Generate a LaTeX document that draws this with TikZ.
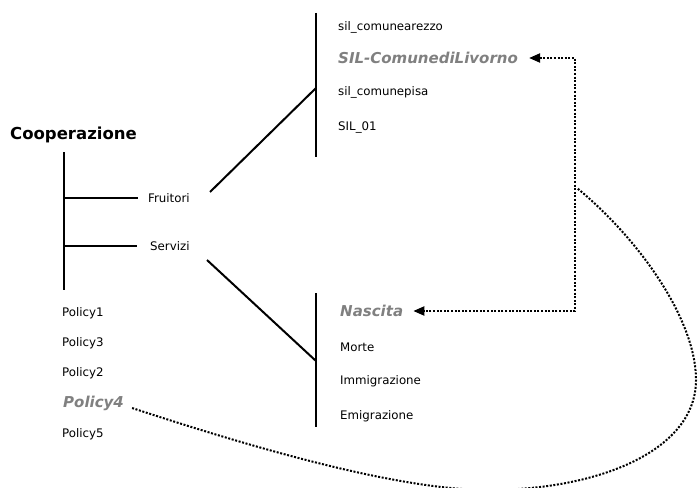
\documentclass[tikz,border=0pt]{standalone}
\usepackage{fontspec}
\setmainfont{DejaVu Sans}
\usetikzlibrary{arrows.meta}
\definecolor{picked}{RGB}{128,128,128}
\tikzset{
  item/.style={anchor=west, inner sep=0pt, font=\fontsize{11.8}{14}\selectfont},
  chosen/.style={anchor=west, inner sep=0pt, text=picked, font=\fontsize{15}{18}\selectfont\bfseries\itshape},
  branch/.style={line width=2pt},
  link/.style={line width=2pt, dash pattern=on 2pt off 1.6pt},
}

\begin{document}
\begin{tikzpicture}[x=1pt, y=-1pt, >={Triangle[length=11pt,width=9pt]}]
  \useasboundingbox (0,0) rectangle (698,487);

  % root
  \node[anchor=west, inner sep=0pt, font=\fontsize{16.5}{20}\selectfont\bfseries] (coop) at (10,135) {Cooperazione};
  \coordinate (trunk) at (64,152);
  \coordinate (trunkend) at (64,290);
  \draw[branch] (trunk) -- (trunkend);

  \node[item] (fruitori) at (148,198) {Fruitori};
  \node[item] (servizi) at (150,246) {Servizi};
  \draw[branch] (trunk |- fruitori.west) -- ([xshift=-10pt]fruitori.west);
  \draw[branch] (trunk |- servizi.west) -- ([xshift=-13pt]servizi.west);

  % policies
  \node[item] (policy1) at (62,313) {Policy1};
  \node[item] (policy3) at (62,343) {Policy3};
  \node[item] (policy2) at (62,373) {Policy2};
  \node[chosen] (policy4) at (63,403) {Policy4};
  \node[item] (policy5) at (62,434) {Policy5};

  % fruitori
  \coordinate (fbar) at (316,13);
  \coordinate (fbarend) at (316,157);
  \draw[branch] (fbar) -- (fbarend);
  \coordinate (fjoin) at (316,88);
  \coordinate (fout) at (210,192);
  \draw[branch] (fout) -- (fjoin);
  \node[item] (arezzo) at (338,27) {sil\_comunearezzo};
  \node[chosen] (livorno) at (338,58) {SIL-ComunediLivorno};
  \node[item] (pisa) at (338,92) {sil\_comunepisa};
  \node[item] (sil01) at (338,128) {SIL\_01};

  % servizi
  \coordinate (sbar) at (316,293);
  \coordinate (sbarend) at (316,427);
  \draw[branch] (sbar) -- (sbarend);
  \coordinate (sjoin) at (316,361);
  \coordinate (sout) at (207,260);
  \draw[branch] (sout) -- (sjoin);
  \node[chosen] (nascita) at (340,311) {Nascita};
  \node[item] (morte) at (340,347) {Morte};
  \node[item] (immigr) at (340,381) {Immigrazione};
  \node[item] (emigr) at (340,416) {Emigrazione};

  % dotted links
  \coordinate (hub) at (575,200);
  \coordinate (hubtail) at (577,188);
  \draw[link, <->] ([xshift=11pt]livorno.east) -- (hub |- livorno.east)
    -- (hub |- nascita.east) -- ([xshift=10pt]nascita.east);
  \draw[link] ([xshift=8pt,yshift=-5pt]policy4.east) .. controls (260,450) and (400,490) .. (488,490)
    .. controls (600,490) and (696,450) .. (696,380)
    .. controls (696,320) and (640,240) .. (hubtail);
\end{tikzpicture}
\end{document}
